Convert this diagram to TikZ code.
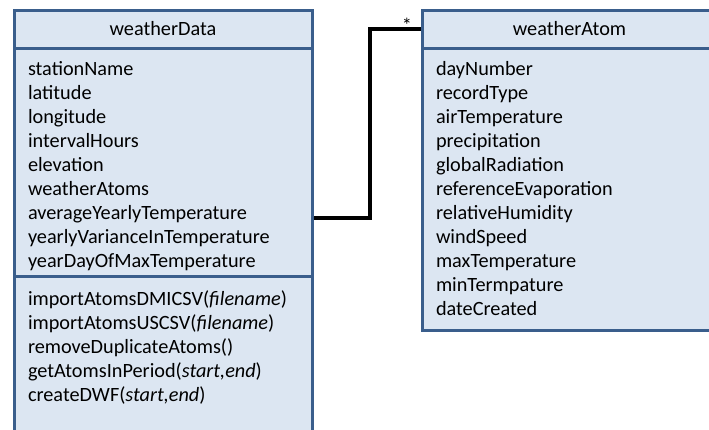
\documentclass[tikz,border=0pt]{standalone}
\usepackage{fontspec}
\setmainfont{Carlito}
\usepackage{tikz}
\usetikzlibrary{positioning, backgrounds}
\usepackage{xcolor}
\definecolor{umlblue}{RGB}{58,94,140}
\definecolor{umlfill}{RGB}{220,230,242}

\begin{document}
\begin{tikzpicture}[
        x=0.75pt, y=-0.75pt,
        classhead/.style={rectangle, draw=umlblue, fill=umlfill, line width=2.25pt, outer sep=0pt,
                    inner sep=0pt, align=center, text height=18.75pt, text depth=10.1pt,
                    font=\fontsize{15.2}{18}\selectfont},
        compart/.style={rectangle, draw=umlblue, fill=umlfill, line width=2.25pt, outer sep=0pt,
                    inner xsep=10.5pt, inner ysep=0pt, align=left,
                    font=\fontsize{15.2}{18}\selectfont},
        assoc/.style={line width=3pt, black},
    ]
        \useasboundingbox (0,0) rectangle (709,429);

        % Classe weatherData
        \node[classhead, minimum width=223.5pt, anchor=north west] (wdTitle) at (14,10)
            {weatherData};
        \node[compart, text width=202.5pt, text height=20.6pt, text depth=150.75pt,
              below=0pt of wdTitle] (wdAttrs)
            {stationName\\latitude\\longitude\\intervalHours\\elevation\\weatherAtoms\\
             averageYearlyTemperature\\yearlyVarianceInTemperature\\yearDayOfMaxTemperature};
        \node[compart, text width=202.5pt, text height=21.75pt, text depth=100.5pt,
              below=0pt of wdAttrs] (wdMethods)
            {importAtomsDMICSV(\textit{filename})\\importAtomsUSCSV(\textit{filename})\\
             removeDuplicateAtoms()\\getAtomsInPeriod(\textit{start,end})\\
             createDWF(\textit{start,end})};

        % Classe weatherAtom
        \node[classhead, minimum width=221.25pt, anchor=north west] (waTitle) at (422,10)
            {weatherAtom};
        \node[compart, text width=200.25pt, text height=20.6pt, text depth=191.25pt,
              below=0pt of waTitle] (waAttrs)
            {dayNumber\\recordType\\airTemperature\\precipitation\\globalRadiation\\
             referenceEvaporation\\relativeHumidity\\windSpeed\\maxTemperature\\
             minTermpature\\dateCreated};

        % Association
        \begin{scope}[on background layer]
            \draw[assoc] ([yshift=-41.4pt]wdAttrs.east) -- ++(58,0) |- (waTitle.west)
                node[pos=1, anchor=south east, inner sep=0pt, xshift=-6pt, yshift=-4pt,
                     font=\fontsize{15.2}{18}\selectfont] {*};
        \end{scope}
    \end{tikzpicture}
\end{document}
